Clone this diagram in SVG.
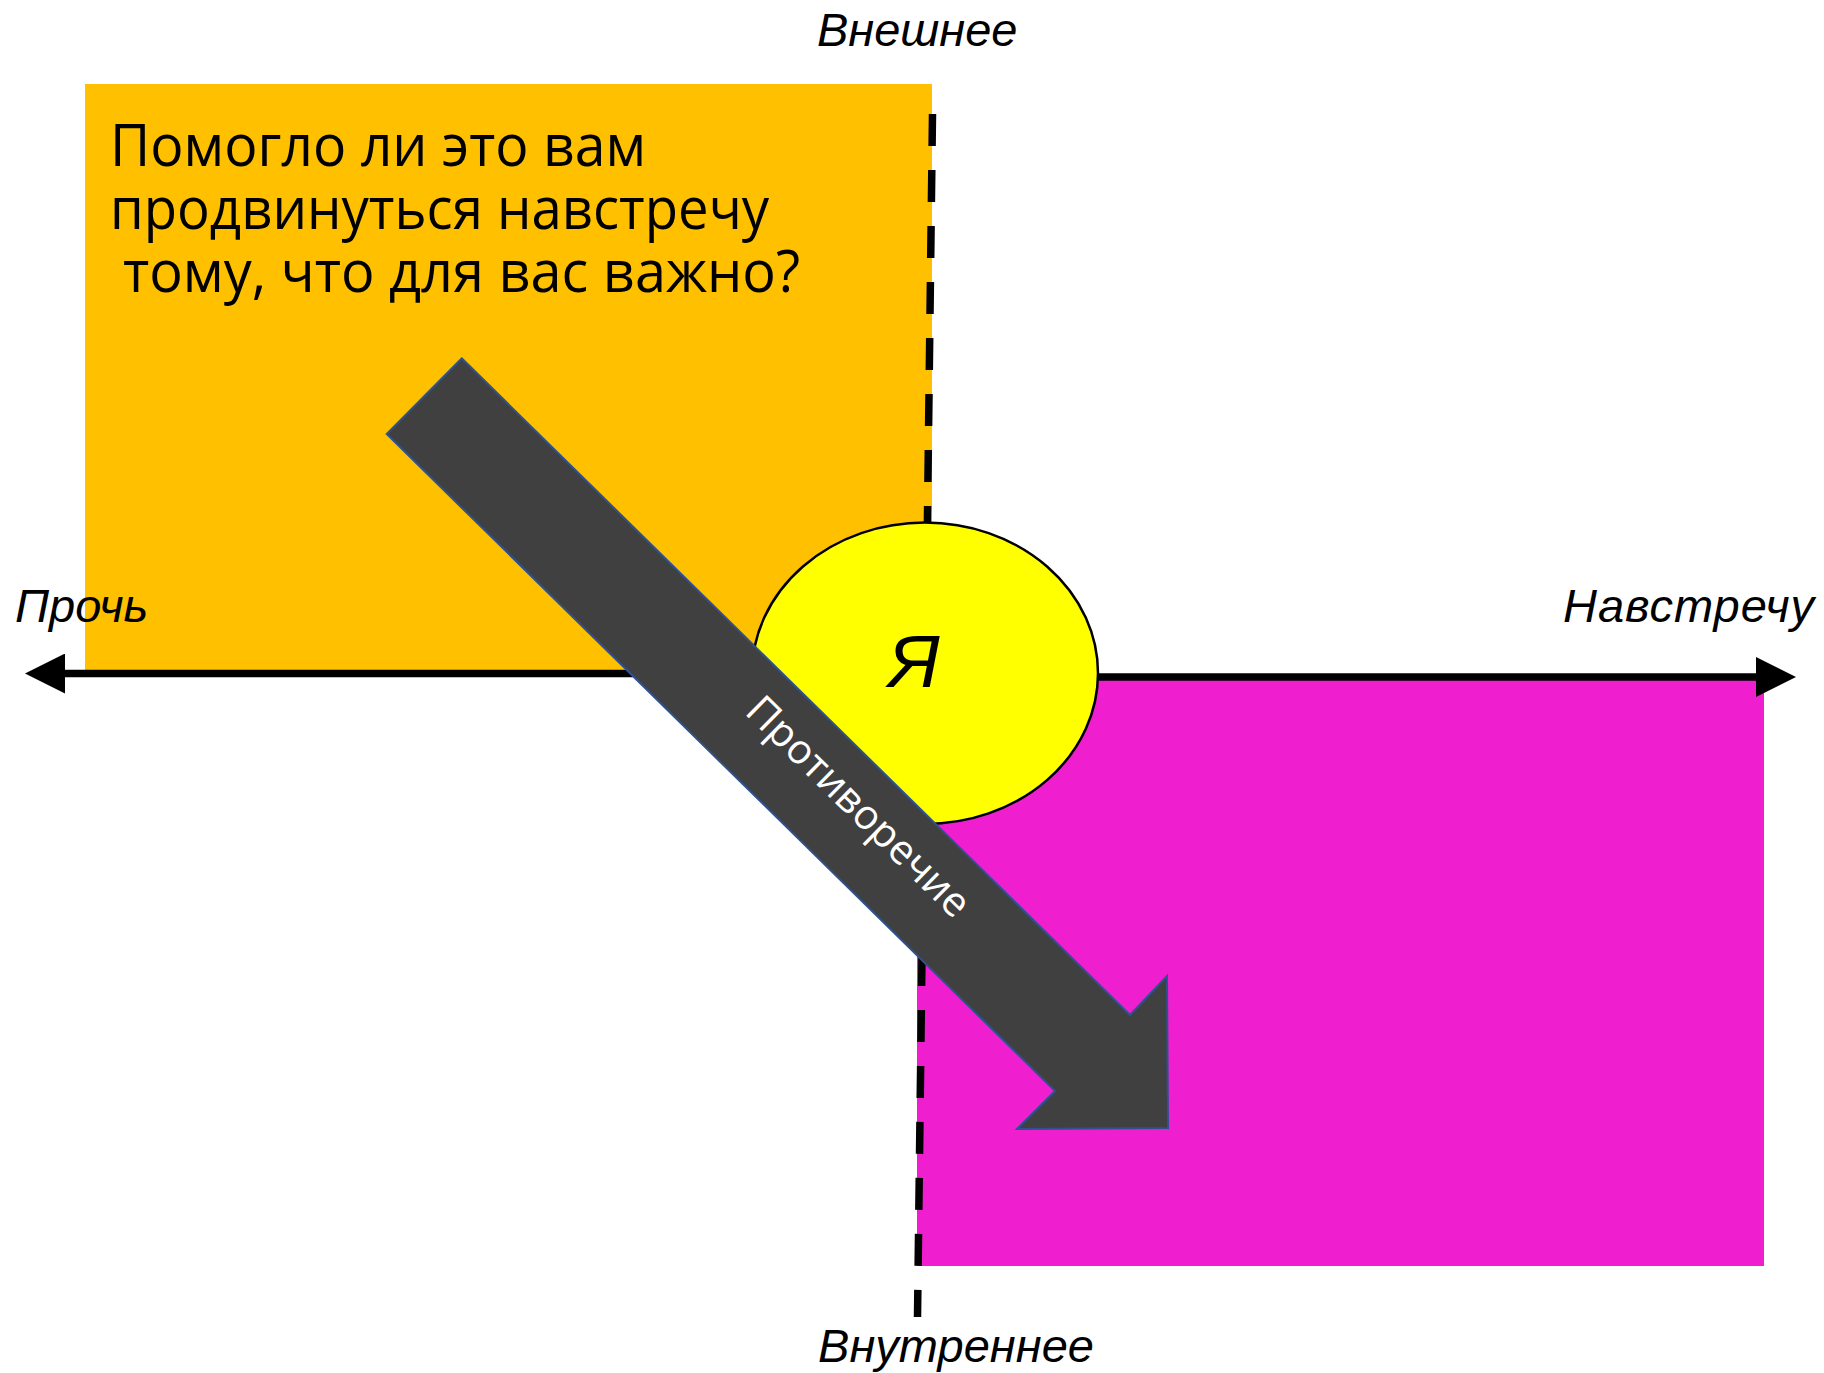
<svg xmlns="http://www.w3.org/2000/svg" width="1824" height="1373" viewBox="0 0 1824 1373">
  <style>
    .axis { stroke: #000; stroke-width: 7.5; fill: none; }
    .dash { stroke: #000; stroke-width: 7.5; stroke-dasharray: 32 24; fill: none; }
    .label { font-family: "Liberation Sans", Arial, sans-serif; font-style: italic; font-size: 47px; fill: #000; }
    .question { font-family: "Open Sans", "Noto Sans", sans-serif; font-size: 58px; fill: #000; }
    .arrow-text { font-family: "Open Sans", "Noto Sans", sans-serif; font-size: 41px; fill: #fff; }
  </style>
  <defs>
    <marker id="head" markerUnits="userSpaceOnUse" markerWidth="40" markerHeight="40" refX="0" refY="20" orient="auto">
      <path d="M0,0 L40,20 L0,40 Z" fill="#000"/>
    </marker>
  </defs>

  <rect width="1824" height="1373" fill="#fff"/>

  <!-- upper-left quadrant: external / away -->
  <g id="quadrant-external">
    <rect x="85" y="84" width="847" height="590" fill="#FFC000"/>
    <text class="question" x="110" y="166" textLength="536" lengthAdjust="spacingAndGlyphs">Помогло ли это вам</text>
    <text class="question" x="110" y="229" textLength="659" lengthAdjust="spacingAndGlyphs">продвинуться навстречу</text>
    <text class="question" x="123" y="292" textLength="677" lengthAdjust="spacingAndGlyphs">тому, что для вас важно?</text>
  </g>

  <!-- lower-right quadrant: internal / toward -->
  <g id="quadrant-internal">
    <rect x="917" y="677" width="847" height="589" fill="#EF1FD0"/>
  </g>

  <!-- axes -->
  <g id="connectors">
    <line class="dash" x1="932.5" y1="114" x2="917.5" y2="1317"/>
    <line class="axis" x1="925" y1="673.5" x2="65" y2="673.5" marker-end="url(#head)"/>
    <line class="axis" x1="925" y1="677" x2="1756" y2="677" marker-end="url(#head)"/>
  </g>

  <!-- self -->
  <g id="self">
    <ellipse cx="925" cy="673.3" rx="173" ry="150.7" fill="#FFFF00" stroke="#000" stroke-width="2.5"/>
    <text x="914" y="687" text-anchor="middle" font-family="Liberation Sans, Arial, sans-serif" font-style="italic" font-size="75" fill="#000">Я</text>
  </g>

  <!-- contradiction arrow -->
  <g id="contradiction">
    <polygon points="461.7,358.3 1130,1015 1167,976 1168,1128 1017,1129 1055,1091 386.7,434" fill="#404040" stroke="#2F528F" stroke-width="2"/>
    <text class="arrow-text" x="860" y="805" text-anchor="middle" dominant-baseline="central" transform="rotate(44.5 860 805)">Противоречие</text>
  </g>

  <!-- axis labels -->
  <g id="axis-labels">
    <text class="label" x="817" y="46">Внешнее</text>
    <text class="label" x="15" y="622">Прочь</text>
    <text class="label" x="1563" y="622" textLength="251">Навстречу</text>
    <text class="label" x="818" y="1362" textLength="276">Внутреннее</text>
  </g>
</svg>
